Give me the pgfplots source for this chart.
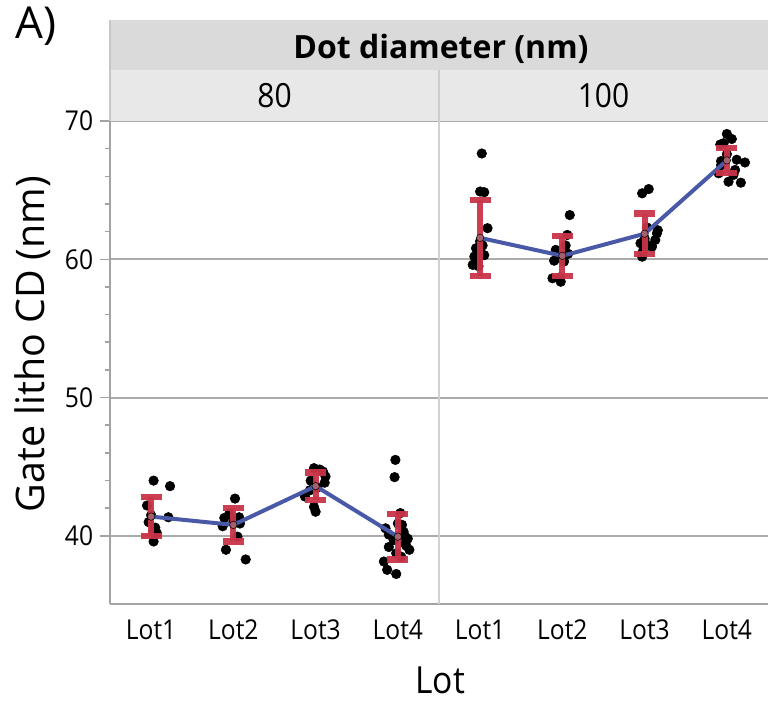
\documentclass[border=0pt]{standalone}
\usepackage{pgfplots}
\pgfplotsset{compat=1.18}
\usepackage{fontspec}
\setmainfont{Open Sans}[FakeStretch=0.9]
\newfontfamily\plainfont{Open Sans}
\definecolor{barred}{HTML}{C93449}
\definecolor{meanblue}{HTML}{4A59A7}
\definecolor{gridgray}{HTML}{ABABAB}
\definecolor{axgray}{HTML}{A3A3A3}
\definecolor{hdrtop}{HTML}{DADADA}
\definecolor{hdrbot}{HTML}{E8E8E8}
\begin{document}
\begin{tikzpicture}
\useasboundingbox (-82.5pt,-73.5pt) rectangle (493.5pt,453pt);
\begin{axis}[
  at={(0pt,0pt)}, anchor=south west,
  scale only axis, width=493.5pt, height=362.25pt,
  xmin=-0.5, xmax=7.5, ymin=35.08, ymax=70,
  axis x line*=bottom, axis y line*=left,
  axis line style={draw=axgray, line width=1.5pt},
  xtick={0,1,2,3,4,5,6,7},
  xticklabels={Lot1,Lot2,Lot3,Lot4,Lot1,Lot2,Lot3,Lot4},
  ytick={40,50,60,70}, minor y tick num=4,
  tick align=outside,
  major tick length=7.5pt, minor tick length=4pt,
  tick style={draw=axgray, line width=1.2pt},
  xtick style={draw=none},
  ymajorgrids, major grid style={draw=gridgray, line width=1.4pt},
  tick label style={font=\fontsize{20.5}{24}\selectfont},
  /pgf/number format/assume math mode=true,
  yticklabel style={anchor=east, inner sep=0pt, xshift=-5pt},
  xticklabel style={anchor=base, inner sep=0pt, yshift=-19.5pt},
  unbounded coords=jump,
  clip=false,
  clip marker paths=true,
]
% panel divider
\draw[draw=black!18, line width=0.8pt] (axis cs:3.5,35.08) -- (axis cs:3.5,70);
% header strips
\fill[hdrtop] (rel axis cs:0,1.1056) rectangle (rel axis cs:1,1.2091);
\fill[hdrbot] (rel axis cs:0,1.0) rectangle (rel axis cs:1,1.1056);
\draw[draw=black!20, line width=0.8pt] (rel axis cs:0.5,1.0) -- (rel axis cs:0.5,1.1056);
\draw[draw=black!22, line width=0.8pt] (rel axis cs:0,1.0) -- (rel axis cs:0,1.2091);
\node[font=\plainfont\bfseries\fontsize{24}{28}\selectfont, anchor=base, inner sep=0pt] at (rel axis cs:0.503,1.1298) {Dot diameter (nm)};
\node[font=\fontsize{25}{30}\selectfont, anchor=base, inner sep=0pt] at (rel axis cs:0.25,1.0284) {80};
\node[font=\fontsize{25}{30}\selectfont, anchor=base, inner sep=0pt] at (rel axis cs:0.75,1.0284) {100};
\node[font=\plainfont\fontsize{33}{38}\selectfont, anchor=base west, inner sep=0pt] at (rel axis cs:-0.1444,1.1698) {A)};
\node[font=\plainfont\fontsize{29.5}{35}\selectfont, rotate=90, anchor=base, inner sep=0pt] at (rel axis cs:-0.0988,0.538) {Gate litho CD (nm)};
\node[font=\fontsize{28}{34}\selectfont, anchor=base, inner sep=0pt] at (rel axis cs:0.502,-0.186) {Lot};
% individual points
\addplot[only marks, mark=*, mark size=3.6pt, black] coordinates {
(0.03,44.0) (0.23,43.6) (-0.05,42.2) (0.21,41.35) (0.03,40.3) (0.03,39.6) (0.05,40.6) (-0.03,41.0) (0.07,40.2) (0.0,41.5)
(1.02,42.7) (0.89,41.3) (0.87,40.7) (1.07,41.35) (1.05,39.95) (0.91,39.0) (1.15,38.3) (1.0,41.0) (0.95,41.6) (1.03,41.2) (1.08,40.9)
(1.98,44.9) (2.09,44.65) (1.93,43.3) (1.87,42.85) (1.98,42.1) (2.0,41.75) (2.11,43.85) (2.05,44.8) (2.12,44.3) (1.94,44.0) (2.02,43.5)
(2.97,45.5) (2.96,44.25) (3.03,41.65) (3.05,40.8) (2.85,40.55) (3.09,39.95) (2.89,39.2) (3.09,39.45) (3.14,39.0) (2.83,38.15) (2.87,37.55) (2.98,37.25) (2.98,38.75) (3.07,40.3) (2.89,40.1) (3.04,38.5) (3.1,39.3) (2.95,39.7) (3.0,40.9) (3.12,39.8)
(4.02,67.65) (4.05,64.85) (4.0,64.9) (4.09,62.25) (3.95,60.8) (3.93,60.2) (3.91,59.6) (3.98,59.5) (4.0,60.5) (4.03,61.0) (3.97,59.9) (4.05,60.3) (4.0,61.3) (3.94,59.8)
(5.09,63.2) (5.06,61.76) (4.92,60.68) (5.02,59.84) (4.88,58.63) (4.98,58.38) (5.04,61.0) (4.95,60.1) (4.97,58.7) (5.07,60.4) (4.9,59.9)
(6.05,65.08) (5.97,64.77) (6.15,61.88) (6.13,61.4) (5.95,61.16) (6.09,60.92) (5.97,60.19) (6.16,62.1) (6.0,61.5) (6.05,61.0) (5.98,60.6) (6.03,62.3)
(7.0,69.06) (6.96,68.39) (7.22,67.0) (7.1,66.46) (7.02,65.61) (7.17,65.54) (6.9,66.22) (6.92,68.3) (7.06,68.7) (7.0,67.6) (7.12,67.2) (6.93,67.1) (7.08,66.1) (6.93,66.8)
};
% mean lines
\addplot[meanblue, line width=3pt, mark=none] coordinates {(0,41.4) (1,40.8) (2,43.6) (3,39.95)};
\addplot[meanblue, line width=3pt, mark=none] coordinates {(4,61.55) (5,60.25) (6,61.85) (7,67.15)};
% error bar stems (mean -/+ error)
\addplot[barred, line width=4.6pt, mark=none, opacity=0.95] coordinates {
(0,40.0) (0,42.8) (0,nan)
(1,39.6) (1,42.0) (1,nan)
(2,42.6) (2,44.6) (2,nan)
(3,38.3) (3,41.6) (3,nan)
(4,58.8) (4,64.3) (4,nan)
(5,58.8) (5,61.7) (5,nan)
(6,60.4) (6,63.3) (6,nan)
(7,66.25) (7,68.05)
};
% error bar caps
\addplot[barred, line width=4.8pt, mark=none, opacity=0.95] coordinates {
(-0.128,40.0) (0.128,40.0) (0,nan) (-0.128,42.8) (0.128,42.8) (0,nan)
(0.872,39.6) (1.128,39.6) (1,nan) (0.872,42.0) (1.128,42.0) (1,nan)
(1.872,42.6) (2.128,42.6) (2,nan) (1.872,44.6) (2.128,44.6) (2,nan)
(2.872,38.3) (3.128,38.3) (3,nan) (2.872,41.6) (3.128,41.6) (3,nan)
(3.872,58.8) (4.128,58.8) (4,nan) (3.872,64.3) (4.128,64.3) (4,nan)
(4.872,58.8) (5.128,58.8) (5,nan) (4.872,61.7) (5.128,61.7) (5,nan)
(5.872,60.4) (6.128,60.4) (6,nan) (5.872,63.3) (6.128,63.3) (6,nan)
(6.872,66.25) (7.128,66.25) (7,nan) (6.872,68.05) (7.128,68.05)
};
% mean markers
\addplot[only marks, mark=*, mark size=2.8pt, mark options={fill=black!45, draw=none, fill opacity=0.5}] coordinates {
(0,41.4) (1,40.8) (2,43.6) (3,39.95) (4,61.55) (5,60.25) (6,61.85) (7,67.15)
};
\end{axis}
\end{tikzpicture}
\end{document}
